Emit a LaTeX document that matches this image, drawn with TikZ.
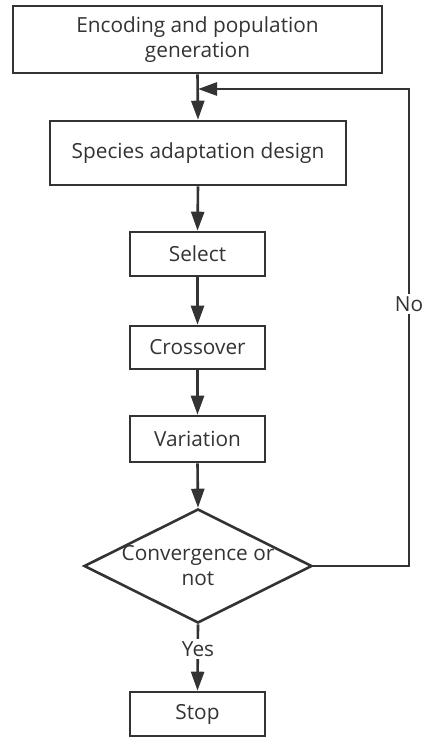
\documentclass[tikz,border=0pt]{standalone}
\usepackage{fontspec}
\setmainfont{Open Sans}
\usetikzlibrary{arrows.meta,shapes.geometric}
\definecolor{ink}{HTML}{333333}
\begin{document}
\begin{tikzpicture}[x=1pt,y=-1pt,
  every node/.style={font=\fontsize{20.8}{25}\selectfont, text=ink},
  box/.style={draw=ink, line width=2.6pt, rectangle, inner sep=0pt, align=center},
  link/.style={draw=ink, line width=2.6pt, -{Triangle[length=19pt,width=13pt]}},
  lbl/.style={fill=white, inner sep=2pt}
]
\useasboundingbox (0,0) rectangle (422,740);
\node[box, minimum width=369pt, minimum height=67pt] (b1) at (197.5,39.5) {Encoding and population\\generation};
\node[box, minimum width=296pt, minimum height=64pt] (b2) at (198,153) {Species adaptation design};
\node[box, minimum width=135pt, minimum height=44pt] (sel) at (197.5,254) {Select};
\node[box, minimum width=135pt, minimum height=43pt] (cro) at (197.5,347.5) {Crossover};
\node[box, minimum width=135pt, minimum height=46pt] (var) at (197.5,439) {Variation};
\node[draw=ink, line width=2.6pt, diamond, inner sep=0pt, minimum width=228pt, minimum height=114pt] (d) at (198,566) {};
\node[align=center] (dt) at (198,566) {Convergence or\\not};
\node[box, minimum width=135pt, minimum height=44pt] (stop) at (197.5,714) {Stop};
\coordinate (j) at (198,89);
\coordinate (r1) at (409,566);
\coordinate (r2) at (409,89);
\draw[link] (b1.south) -- (b2.north);
\draw[link] (b2.south) -- (sel.north);
\draw[link] (sel.south) -- (cro.north);
\draw[link] (cro.south) -- (var.north);
\draw[link] (var.south) -- (d.north);
\draw[link] (d.south) -- (stop.north);
\draw[link] (d.east) -- (r1) -- (r2) -- (j);
\node[lbl] (yes) at (198,649) {Yes};
\node[lbl] (no) at (409,304) {No};
\end{tikzpicture}
\end{document}
